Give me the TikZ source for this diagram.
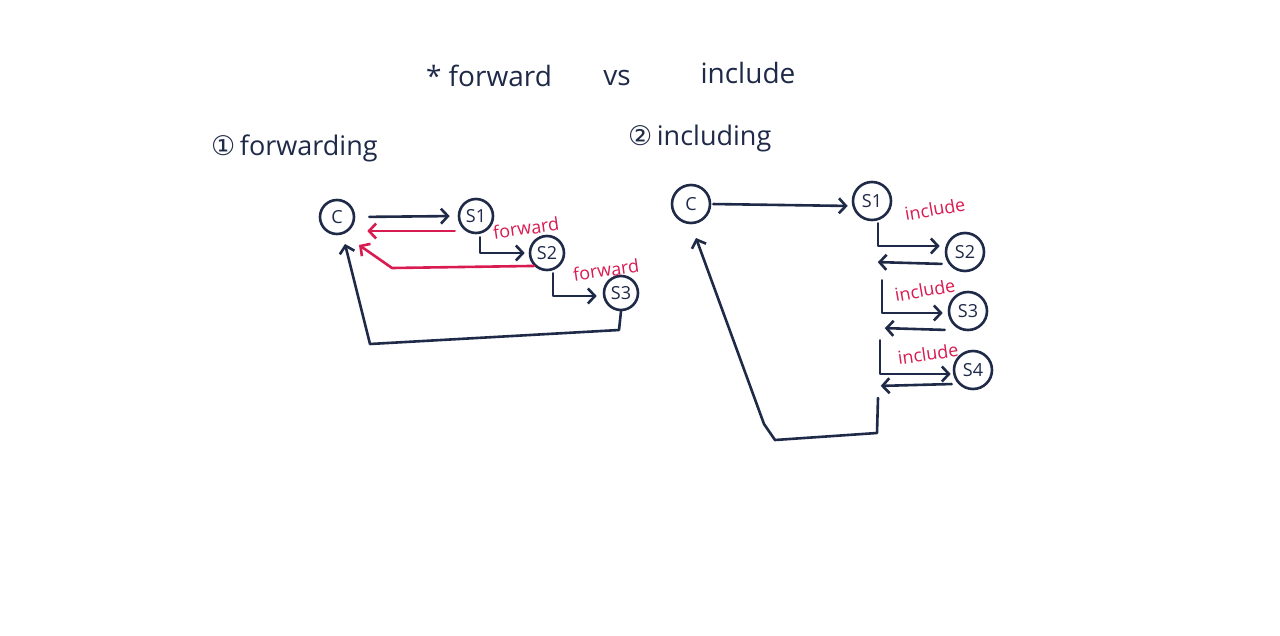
\documentclass[tikz,border=0pt]{standalone}
\usepackage{fontspec}
\setmainfont{Open Sans}
\newfontfamily\symfont{DejaVu Sans}
\usetikzlibrary{arrows.meta}
\definecolor{ink}{HTML}{1F2A48}
\definecolor{pen}{HTML}{D81B50}
\tikzset{
  sv/.style={draw=ink,line width=2.6pt,circle,minimum size=34pt,inner sep=0pt,text=ink,font=\fontsize{18}{18}\selectfont},
  svb/.style={sv,minimum size=38pt},
  con/.style={draw=ink,line width=2.6pt,line cap=round,line join=round},
  arr/.style={con,-{Straight Barb[length=7pt,width=15pt,line width=2.6pt]}},
  rarr/.style={arr,draw=pen},
  rlab/.style={text=pen,font=\fontsize{18}{18}\selectfont,inner sep=0pt},
  ttl/.style={text=ink,font=\fontsize{28}{28}\selectfont,inner sep=0pt},
  sub/.style={text=ink,font=\fontsize{27}{27}\selectfont,inner sep=0pt}
}
\begin{document}
\begin{tikzpicture}[x=1pt,y=-1pt]
\useasboundingbox[fill=white] (0,0) rectangle (1280,635);
% titles
\node[ttl] (t1) at (489,76) {* forward};
\node[ttl] (t2) at (617,78) {vs};
\node[ttl] (t3) at (748,73) {include};
\node[sub,anchor=west] (h1) at (211,148) {{\symfont ①}\,forwarding};
\node[sub,anchor=west] (h2) at (628,138) {{\symfont ②}\,including};
% ---- left diagram
\node[sv] (lC) at (337,217) {C};
\node[sv] (lS1) at (476,216) {S1};
\node[sv] (lS2) at (547,253) {S2};
\node[sv] (lS3) at (621,293) {S3};
\coordinate (lr2) at (392,268);
\coordinate (lCin2) at (359,245);
\coordinate (lb3) at (619,330);
\coordinate (lb4) at (370,344);
\coordinate (lCin3) at (345,244);
\draw[arr,shorten <=14pt,shorten >=8pt] (lC.east) -- (lS1.west);
\draw[rarr,shorten <=3pt,shorten >=12pt] ([yshift=-15pt]lS1.west) -- ([yshift=-14pt]lC.east);
\draw[arr,shorten <=3pt,shorten >=4pt] ([xshift=4pt]lS1.south) |- (lS2.west);
\draw[rarr] (lS2.south west) -- (lr2) -- (lCin2);
\draw[arr,shorten <=2pt,shorten >=6pt] ([xshift=6pt]lS2.south) |- ([yshift=-3pt]lS3.west);
\draw[arr] (lS3.south) -- (lb3) -- (lb4) -- (lCin3);
\node[rlab,rotate=8] (lf1) at (526,228) {forward};
\node[rlab,rotate=8] (lf2) at (606,270) {forward};
% ---- right diagram
\node[svb] (rC) at (691,204) {C};
\node[svb] (rS1) at (872,201) {S1};
\node[svb] (rS2) at (965,252) {S2};
\node[svb] (rS3) at (968,311) {S3};
\node[svb] (rS4) at (973,370) {S4};
\coordinate (rb1) at (878,398);
\coordinate (rb2) at (877,433);
\coordinate (rb3) at (775,440);
\coordinate (rb4) at (764,424);
\coordinate (rCin) at (696,238);
\draw[arr,shorten <=2pt,shorten >=4pt] (rC.east) -- ([yshift=-5pt]rS1.west);
\draw[arr,shorten <=2pt,shorten >=5pt] ([xshift=6pt]rS1.south) |- ([yshift=6pt]rS2.west);
\draw[arr,shorten <=3pt,shorten >=3pt] ([yshift=-12pt]rS2.west) -- ++(-70,-2) coordinate (rr2);
\draw[arr,shorten <=8pt,shorten >=5pt] ([xshift=10pt]rS2.south -| rS1.south) |- ([yshift=-2pt]rS3.west);
\draw[arr,shorten <=3pt,shorten >=3pt] ([yshift=-19pt]rS3.west) -- ++(-66,-2) coordinate (rr3);
\draw[arr,shorten <=9pt,shorten >=2pt] ([xshift=8pt]rS3.south -| rS1.south) |- ([yshift=-4pt]rS4.west);
\draw[arr,shorten <=1pt,shorten >=3pt] ([yshift=-14pt]rS4.west) -- ++(-75,2) coordinate (rr4);
\draw[arr] (rb1) -- (rb2) -- (rb3) -- (rb4) -- (rCin);
\node[rlab,rotate=10] (ri1) at (935,209) {include};
\node[rlab,rotate=10] (ri2) at (925,290) {include};
\node[rlab,rotate=8] (ri3) at (928,354) {include};
\end{tikzpicture}
\end{document}
